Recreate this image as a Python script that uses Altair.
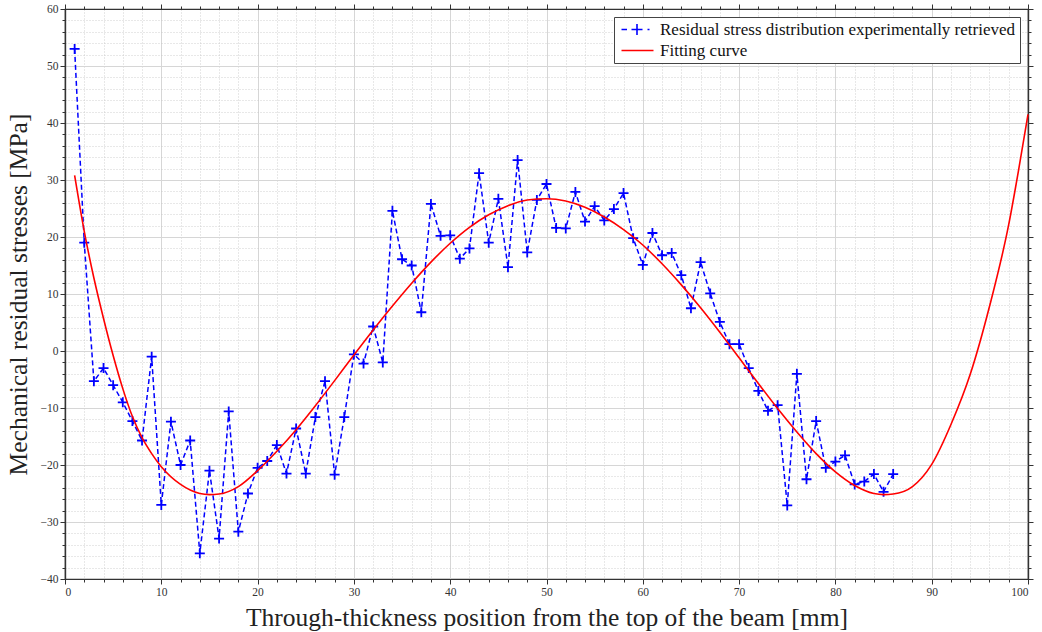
import altair as alt
import pandas as pd

S1 = "Residual stress distribution experimentally retrieved"
S2 = "Fitting curve"

x_exp = list(range(1, 87))
y_exp = [53.0, 19.0, -5.3, -3.0, -6.0, -9.0, -12.3, -15.7, -1.0, -27.0,
         -12.4, -20.0, -15.7, -35.5, -21.0, -32.9, -10.6, -31.7, -25.0, -20.5,
         -19.3, -16.5, -21.5, -13.6, -21.5, -11.6, -5.3, -21.7, -11.6, -0.6,
         -2.2, 4.3, -2.0, 24.6, 16.1, 15.0, 6.8, 25.8, 20.2, 20.3,
         16.2, 18.0, 31.2, 19.0, 26.7, 14.7, 33.5, 17.3, 26.5, 29.3,
         21.6, 21.5, 27.9, 22.7, 25.4, 22.9, 24.9, 27.7, 19.8, 15.1,
         20.7, 16.8, 17.2, 13.3, 7.5, 15.6, 10.1, 5.1, 1.2, 1.2,
         -3.0, -7.0, -10.5, -9.5, -27.1, -4.0, -22.5, -12.3, -20.5, -19.4,
         -18.3, -23.4, -22.9, -21.6, -24.7, -21.6]

x_fit = [1, 2, 3, 4, 5, 6, 7, 8, 9, 10, 12, 14, 15, 16, 18, 20, 22, 24, 26, 28,
         30, 32, 34, 36, 38, 40, 42, 44, 46, 48, 50, 52, 54, 56, 58, 60, 62, 64,
         66, 68, 70, 72, 74, 76, 78, 80, 82, 84, 85, 86, 88, 90, 92, 94, 96, 98,
         99, 100]
y_fit = [30.8, 21.0, 12.8, 5.7, -0.8, -6.6, -11.5, -15.2, -18.0, -20.3, -23.4,
         -25.0, -25.2, -25.1, -23.8, -21.0, -17.6, -13.8, -9.6, -5.2, -0.7, 3.7,
         7.9, 11.9, 15.6, 18.9, 21.7, 23.9, 25.5, 26.5, 26.7, 26.3, 25.2, 23.5,
         21.3, 18.6, 15.3, 11.6, 7.6, 3.3, -1.2, -5.7, -10.1, -14.2, -18.0, -21.2,
         -23.6, -25.0, -25.2, -25.1, -23.8, -19.9, -12.9, -4.1, 7.8, 22.2, 31.5,
         41.5]

x_minor = list(range(0, 101, 2))
x_major = list(range(0, 101, 10))
y_minor = list(range(-40, 61, 2))
y_major = list(range(-40, 61, 10))

FONT = "Liberation Serif"
AXC = "#333333"
PLUS = "M-1,0L1,0M0,-1L0,1"
LEG_EXP = "M-1,0L0.1,0M1,0L3.2,0M2.1,-1.1L2.1,1.1M4.2,0L4.6,0"
LEG_FIT = "M-1,0L5.4,0"

exp_df = pd.DataFrame({"x": x_exp, "y": y_exp, "series": S1})
fit_df = pd.DataFrame({"x": x_fit, "y": y_fit, "series": S2})

xs = alt.Scale(domain=[0, 100], nice=False, zero=False)
ys = alt.Scale(domain=[-40, 60], nice=False, zero=False)


def minor_axis(orient, values, grid):
    return alt.Axis(orient=orient, values=values, labels=False, tickSize=3,
                    tickColor=AXC, tickWidth=1, domainColor=AXC, domainWidth=1.2,
                    grid=grid, gridDash=[1, 2], gridColor="#c4c4c4", gridWidth=0.8)


def major_axis(orient, values, labels, grid, tpad=9):
    return alt.Axis(orient=orient, values=values, labels=labels, tickSize=5,
                    tickColor=AXC, tickWidth=1, domainColor=AXC, domainWidth=1.2,
                    labelFont=FONT, labelFontSize=11.5, labelColor="#333333",
                    labelPadding=2, labelOverlap=False,
                    titleFont=FONT, titleFontSize=25.5, titleFontWeight="normal",
                    titleColor="#222222", titlePadding=tpad,
                    grid=grid, gridColor="#d6d6d6", gridWidth=1)


line_exp = alt.Chart(exp_df).mark_line(
    color="#0000ff", strokeDash=[5, 3], strokeWidth=1.5
).encode(
    x=alt.X("x:Q", scale=xs, axis=minor_axis("bottom", x_minor, True), title=None),
    y=alt.Y("y:Q", scale=ys, axis=minor_axis("left", y_minor, True), title=None),
)

pts_exp = alt.Chart(exp_df).mark_point(
    shape=PLUS, size=100, filled=False, color="#0000ff", strokeWidth=1.8, opacity=1
).encode(
    x=alt.X("x:Q", scale=xs, axis=minor_axis("top", x_minor, False), title=None),
    y=alt.Y("y:Q", scale=ys, axis=minor_axis("right", y_minor, False), title=None),
)

line_fit = alt.Chart(fit_df).mark_line(
    color="#ff0000", strokeWidth=1.6, interpolate="monotone"
).encode(
    x=alt.X("x:Q", scale=xs, axis=major_axis("bottom", x_major, True, True, 8),
            title="Through-thickness position from the top of the beam [mm]"),
    y=alt.Y("y:Q", scale=ys, axis=major_axis("left", y_major, True, True, 9),
            title="Mechanical residual stresses [MPa]"),
)

legend = alt.Legend(
    title=None, orient="top-right", offset=8, fillColor="white",
    strokeColor="#444444", padding=4, labelFont=FONT, labelFontSize=17,
    labelColor="#111111", labelLimit=800, symbolSize=100, symbolStrokeWidth=1.6,
    labelOffset=25, rowPadding=2, cornerRadius=0,
)

legend_layer = alt.Chart(pd.concat([exp_df, fit_df])).mark_point(
    filled=False, strokeWidth=1.5, opacity=1
).encode(
    x=alt.X("x:Q", scale=xs, axis=major_axis("top", x_major, False, False), title=None),
    y=alt.Y("y:Q", scale=ys, axis=major_axis("right", y_major, False, False), title=None),
    color=alt.Color("series:N", scale=alt.Scale(domain=[S1, S2], range=["#0000ff", "#ff0000"]),
                    legend=legend),
    shape=alt.Shape("series:N", scale=alt.Scale(domain=[S1, S2], range=[LEG_EXP, LEG_FIT]),
                    legend=legend),
).transform_filter("false")

chart = alt.layer(line_exp, pts_exp, line_fit, legend_layer).resolve_axis(
    x="independent", y="independent"
).properties(
    width=963, height=570,
    padding={"left": 6, "top": 3, "right": 3, "bottom": 0},
    background="white",
).configure_view(stroke=AXC, strokeWidth=1.2)

chart.save("out.html", embed_options={"renderer": "svg", "actions": False})
